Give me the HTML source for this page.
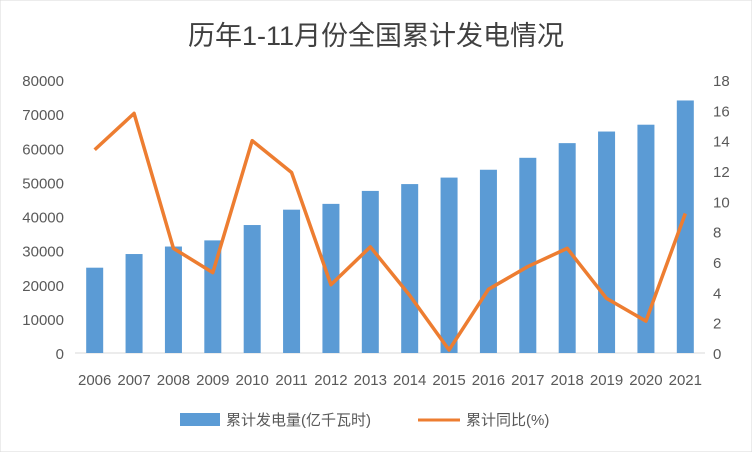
<!DOCTYPE html>
<html><head><meta charset="utf-8"><style>
body{margin:0;background:#fff;}
svg text{font-family:"Liberation Sans","Noto Sans CJK SC",sans-serif;fill:#595959;}
</style></head><body>
<svg id="c" width="752" height="452" xmlns="http://www.w3.org/2000/svg">
<rect x="0" y="0" width="752" height="452" fill="#fff" stroke="#d9d9d9"/>
<text x="376" y="45" font-size="27" text-anchor="middle" style="fill:#404040">历年1-11月份全国累计发电情况</text>
<g id="g"></g>
<g>
<rect x="180" y="413" width="40" height="13" fill="#5b9bd5"/>
<text x="226" y="425" font-size="15">累计发电量(亿千瓦时)</text>
<line x1="418" y1="420" x2="460" y2="420" stroke="#ed7d31" stroke-width="3"/>
<text x="466" y="425" font-size="15">累计同比(%)</text>
</g>
</svg>
<script>
const categories=["2006","2007","2008","2009","2010","2011","2012","2013","2014","2015","2016","2017","2018","2019","2020","2021"];
const generation=[25000,29000,31200,33000,37500,42000,43700,47500,49500,51400,53700,57200,61500,64900,66900,74000];
const growth=[13.4,15.8,6.9,5.3,14.0,11.9,4.5,7.0,3.8,0.2,4.2,5.7,6.9,3.6,2.1,9.2];
const leftTicks=[0,10000,20000,30000,40000,50000,60000,70000,80000];
const rightTicks=[0,2,4,6,8,10,12,14,16,18];
const g=document.getElementById('g');
const NS="http://www.w3.org/2000/svg";
const y0=353,y1=80,x0=75,x1=705;
const yL=v=>y0-(v/80000)*(y0-y1);
const yR=v=>y0-(v/18)*(y0-y1);
const step=(x1-x0)/categories.length;
const xC=i=>x0+step*(i+0.5);
function mk(t,a){const e=document.createElementNS(NS,t);for(const k in a)e.setAttribute(k,a[k]);g.appendChild(e);return e;}
leftTicks.forEach(v=>{const t=mk('text',{x:64,y:yL(v)+6,'font-size':15,'text-anchor':'end'});t.textContent=v;

});
rightTicks.forEach(v=>{const t=mk('text',{x:713,y:yR(v)+6,'font-size':15});t.textContent=v;

});
const ax=mk('line',{x1:x0,y1:y0,x2:x1,y2:y0,stroke:'#d9d9d9'});


generation.forEach((v,i)=>{const r=mk('rect',{x:xC(i)-8.5,y:yL(v),width:17,height:y0-yL(v),fill:'#5b9bd5'});

});
categories.forEach((c,i)=>{const t=mk('text',{x:xC(i),y:385,'font-size':15,'text-anchor':'middle'});t.textContent=c;

});
const p=mk('polyline',{points:growth.map((v,i)=>xC(i)+','+yR(v)).join(' '),fill:'none',stroke:'#ed7d31','stroke-width':3.5,'stroke-linejoin':'round'});


</script>
</body></html>
